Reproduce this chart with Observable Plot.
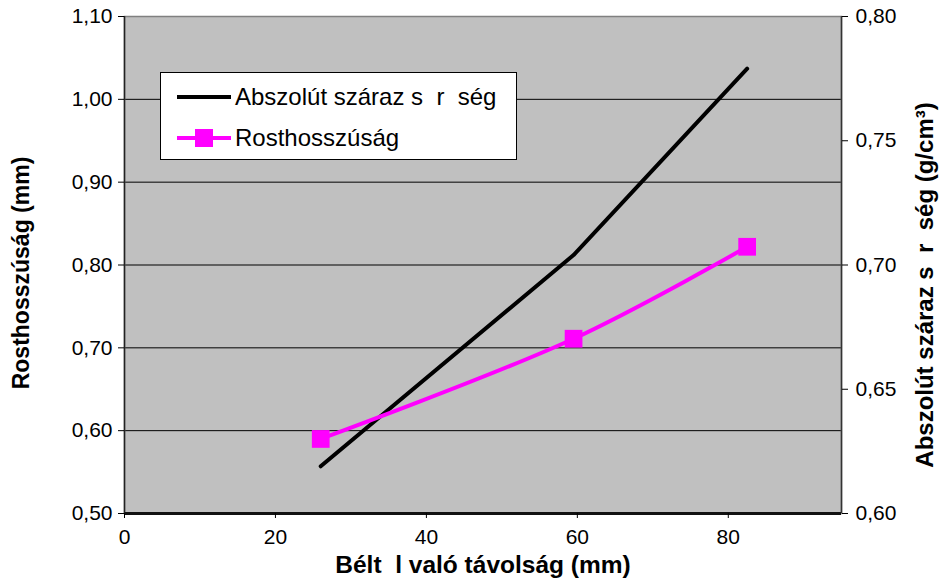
<!DOCTYPE html>
<html><head><meta charset="utf-8">
<script src="https://cdn.jsdelivr.net/npm/d3@7"></script>
<script src="https://cdn.jsdelivr.net/npm/@observablehq/plot@0.6"></script>
<style>
body{margin:0;background:#fff;font-family:"Liberation Sans",Arial,sans-serif;}
#wrap{position:relative;width:943px;height:585px;}
svg text{white-space:pre;}
#legend{position:absolute;left:160px;top:72px;width:357px;height:88px;background:#fff;border:1px solid #000;box-sizing:border-box;font-size:24px;color:#000;}
.li{position:absolute;left:16px;height:26px;display:flex;align-items:center;}
.li span{white-space:pre;}
.sw{position:relative;width:54px;height:26px;margin-right:4px;}
.sw .ln{position:absolute;left:0;right:0;top:11px;height:4px;}
.sw .sq{position:absolute;left:18px;top:4px;width:18px;height:18px;background:#ff00ff;}
</style>
</head><body>
<div id="wrap"></div>
<script>
// Data
const distance = [26, 59.5, 82.5];               // Béltől való távolság (mm)
const fiberLength = [0.59, 0.711, 0.822];        // Rosthosszúság (mm) – left axis
const density = [0.619, 0.704, 0.779];           // Abszolút száraz sűrűség (g/cm3) – right axis
const xTicks = [0, 20, 40, 60, 80];
const leftTicks = [0.5, 0.6, 0.7, 0.8, 0.9, 1.0, 1.1];
const rightTicks = [0.60, 0.65, 0.70, 0.75, 0.80];
const seriesNames = ["Abszolút száraz s  r  ség", "Rosthosszúság"];

const toLeft = v => 0.5 + (v - 0.6) * 3;
const fromLeft = v => 0.6 + (v - 0.5) / 3;
const fmt = d => d3.format(".2f")(d).replace(".", ",");

const lenData = distance.map((x, i) => ({x, y: fiberLength[i]}));
const denData = distance.map((x, i) => ({x, y: toLeft(density[i])}));

const chart = Plot.plot({
  width: 943, height: 585,
  marginLeft: 124, marginRight: 102, marginTop: 16, marginBottom: 72,
  style: {fontFamily: "'Liberation Sans', Arial, sans-serif", fontSize: "21px", background: "#fff", color: "#000"},
  x: {domain: [0, 95]},
  y: {domain: [0.5, 1.1]},
  marks: [
    Plot.frame({fill: "#c0c0c0"}),
    Plot.ruleY(leftTicks.slice(1, -1), {stroke: "#000", strokeWidth: 1}),
    Plot.frame({stroke: "#808080", strokeWidth: 1.5}),
    Plot.ruleY([0.5], {stroke: "#111", strokeWidth: 3}),
    Plot.ruleX([0], {stroke: "#222", strokeWidth: 1.5}),
    Plot.ruleX([95], {stroke: "#333", strokeWidth: 1.5}),
    Plot.axisX({ticks: xTicks, tickSize: 5, tickPadding: 11, label: null, tickFormat: d => String(d)}),
    Plot.axisY({ticks: leftTicks, tickSize: 6, tickPadding: 6, label: null, tickFormat: fmt}),
    Plot.axisY({anchor: "right", ticks: rightTicks.map(toLeft), tickSize: 6, tickPadding: 8, label: null, tickFormat: d => fmt(fromLeft(d))}),
    Plot.line(denData, {x: "x", y: "y", stroke: "#000", strokeWidth: 4}),
    Plot.line(lenData, {x: "x", y: "y", stroke: "#ff00ff", strokeWidth: 4, curve: "catmull-rom"}),
    Plot.dot(lenData, {x: "x", y: "y", symbol: "square", r: 10, fill: "#ff00ff", stroke: "none"}),
    Plot.text(["Bélt  l való távolság (mm)"], {frameAnchor: "bottom", dy: 59, fontSize: 24.5, fontWeight: "bold"}),
    Plot.text(["Rosthosszúság (mm)"], {frameAnchor: "left", textAnchor: "middle", dx: -103, dy: 8, rotate: -90, fontSize: 23, fontWeight: "bold"}),
    Plot.text(["Abszolút száraz s  r  ség (g/cm³)"], {frameAnchor: "right", textAnchor: "middle", dx: 84, dy: 20, rotate: -90, fontSize: 24, fontWeight: "bold"})
  ]
});
const wrap = document.getElementById("wrap");
wrap.appendChild(chart);

const legend = document.createElement("div");
legend.id = "legend";
legend.innerHTML = `
  <div class="li" style="top:11px"><div class="sw"><div class="ln" style="background:#000"></div></div><span>${seriesNames[0]}</span></div>
  <div class="li" style="top:52px"><div class="sw"><div class="ln" style="background:#ff00ff"></div><div class="sq"></div></div><span>${seriesNames[1]}</span></div>`;
wrap.appendChild(legend);
</script>
</body></html>
